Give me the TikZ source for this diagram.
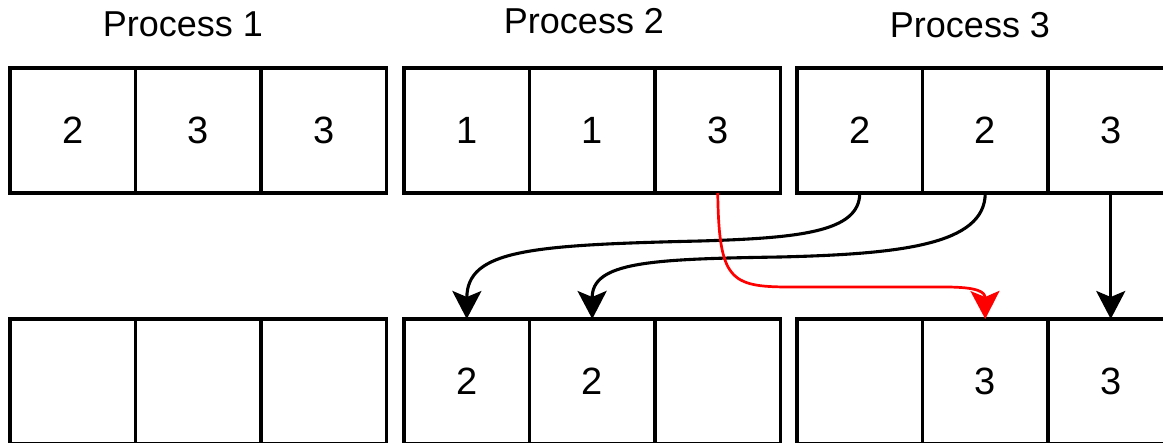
\documentclass[tikz,border=0pt]{standalone}
\usepackage{fontspec}
\setmainfont{Liberation Sans}
\usetikzlibrary{arrows.meta}
\begin{document}
\begin{tikzpicture}[x=1pt,y=-1pt,
  cell/.style={draw, line width=3.3pt, minimum width=125.5pt, minimum height=125pt,
    inner sep=0pt, outer sep=0pt, font=\fontsize{38}{40}\selectfont, anchor=center},
  title/.style={font=\fontsize{36}{40}\selectfont, anchor=base, inner sep=0pt},
  link/.style={line width=3.1pt, -{Stealth[length=28pt,width=29pt,inset=6pt]}},
  redlink/.style={link, red, line width=2.7pt}]
\useasboundingbox (0,0) rectangle (1163,443);
\clip (0,0) rectangle (1163,443);
% titles
\node[title] (p1) at (183,37) {Process 1};
\node[title] (p2) at (584,34) {Process 2};
\node[title] (p3) at (970,38) {Process 3};
% top row
\node[cell] (t11) at (72.75,130.5) {2};
\node[cell] (t12) at (198.25,130.5) {3};
\node[cell] (t13) at (323.75,130.5) {3};
\node[cell] (t21) at (466.75,130.5) {1};
\node[cell] (t22) at (592.25,130.5) {1};
\node[cell] (t23) at (717.75,130.5) {3};
\node[cell] (t31) at (859.75,130.5) {2};
\node[cell] (t32) at (985.25,130.5) {2};
\node[cell] (t33) at (1110.75,130.5) {3};
% bottom row
\node[cell] (b11) at (72.75,381.5) {};
\node[cell] (b12) at (198.25,381.5) {};
\node[cell] (b13) at (323.75,381.5) {};
\node[cell] (b21) at (466.75,381.5) {2};
\node[cell] (b22) at (592.25,381.5) {2};
\node[cell] (b23) at (717.75,381.5) {};
\node[cell] (b31) at (859.75,381.5) {};
\node[cell] (b32) at (985.25,381.5) {3};
\node[cell] (b33) at (1110.75,381.5) {3};
% connectors
\draw[link] (t31.south) .. controls +(0,39) and (800,238) .. (700,241)
  .. controls (530,245) and (467,250) .. (b21.north);
\draw[link] (t32.south) .. controls +(0,52) and (900,254) .. (780,257)
  .. controls (650,259) and (592,262) .. (b22.north);
\draw[redlink] (t23.south) .. controls (719,280) and (730,287) .. (790,287)
  -- (945,287) .. controls (978,287) and (985,292) .. (b32.north);
\draw[link] (t33.south) -- (b33.north);
\end{tikzpicture}
\end{document}
